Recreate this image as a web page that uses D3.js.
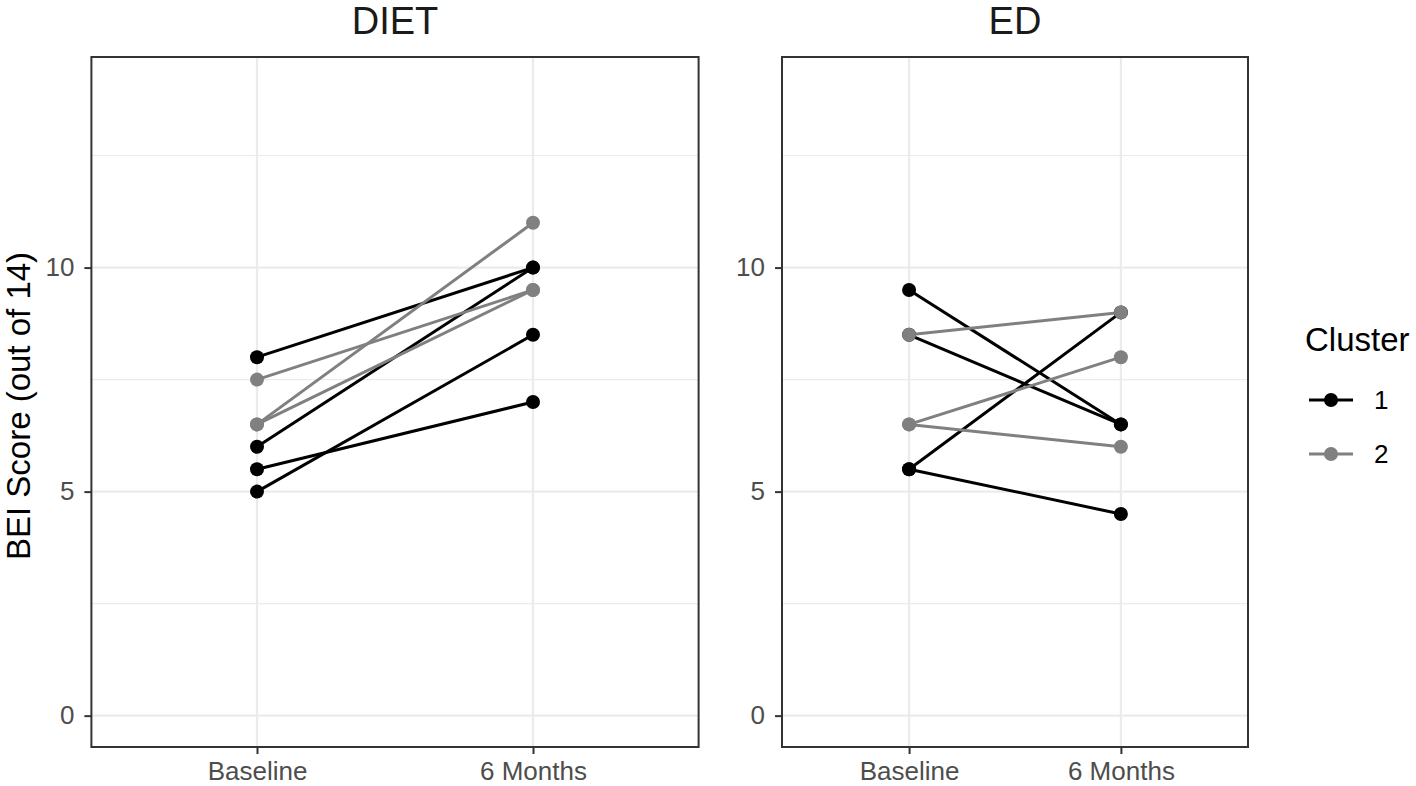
<!DOCTYPE html>
<html>
<head>
<meta charset="utf-8">
<script src="https://cdn.jsdelivr.net/npm/d3@7"></script>
<style>
  html, body { margin: 0; padding: 0; background: #fff; }
  svg { display: block; font-family: "Liberation Sans", Arial, Helvetica, sans-serif; }
</style>
</head>
<body>
<svg id="chart" width="1416" height="786"></svg>
<script>
// ---- Data ----
const timepoints = ["Baseline", "6 Months"];
const panelNames = ["DIET", "ED"];
const clusters = ["1", "2"];
const clusterColors = ["#000000", "#808080"];

const dietBaseline  = [8, 6, 5.5, 5, 7.5, 6.5, 6.5];
const dietSixMonths = [10, 10, 7, 8.5, 9.5, 11, 9.5];
const dietCluster   = ["1", "1", "1", "1", "2", "2", "2"];

const edBaseline  = [9.5, 8.5, 5.5, 5.5, 8.5, 6.5, 6.5];
const edSixMonths = [6.5, 6.5, 9, 4.5, 9, 8, 6];
const edCluster   = ["1", "1", "1", "1", "2", "2", "2"];

const yTicks = [0, 5, 10];
const yMinorTicks = [2.5, 7.5, 12.5];
const yTitle = "BEI Score (out of 14)";
const legendTitle = "Cluster";

// ---- Layout ----
const svg = d3.select("#chart");
const plotTop = 57, plotBottom = 747;
const panelsLayout = [
  { name: panelNames[0], x0: 91.4, x1: 698.6, base: dietBaseline, six: dietSixMonths, cl: dietCluster },
  { name: panelNames[1], x0: 782, x1: 1248, base: edBaseline, six: edSixMonths, cl: edCluster }
];

const y = d3.scaleLinear().domain([-0.7, 14.7]).range([plotBottom, plotTop]);
const color = d3.scaleOrdinal().domain(clusters).range(clusterColors);

panelsLayout.forEach(p => {
  const x = d3.scalePoint().domain(timepoints).range([p.x0, p.x1]).padding(0.6);
  const g = svg.append("g");

  g.append("rect").attr("x", p.x0).attr("y", plotTop).attr("width", p.x1 - p.x0).attr("height", plotBottom - plotTop)
    .attr("fill", "#fff");

  g.selectAll(".ymin").data(yMinorTicks).enter().append("line")
    .attr("x1", p.x0).attr("x2", p.x1).attr("y1", d => y(d)).attr("y2", d => y(d))
    .attr("stroke", "#ebebeb").attr("stroke-width", 1.1);
  g.selectAll(".ymaj").data(yTicks).enter().append("line")
    .attr("x1", p.x0).attr("x2", p.x1).attr("y1", d => y(d)).attr("y2", d => y(d))
    .attr("stroke", "#ebebeb").attr("stroke-width", 2.2);
  g.selectAll(".xmaj").data(timepoints).enter().append("line")
    .attr("x1", d => x(d)).attr("x2", d => x(d)).attr("y1", plotTop).attr("y2", plotBottom)
    .attr("stroke", "#ebebeb").attr("stroke-width", 2.2);

  const rows = p.base.map((b, i) => ({ b, s: p.six[i], c: p.cl[i] }));
  const order = rows.slice().sort((a, b) => d3.ascending(a.c, b.c));
  g.selectAll(".seg").data(order).enter().append("line")
    .attr("x1", x(timepoints[0])).attr("x2", x(timepoints[1]))
    .attr("y1", d => y(d.b)).attr("y2", d => y(d.s))
    .attr("stroke", d => color(d.c)).attr("stroke-width", 3);
  const pts = [];
  order.forEach(d => { pts.push({ t: timepoints[0], v: d.b, c: d.c }); pts.push({ t: timepoints[1], v: d.s, c: d.c }); });
  g.selectAll(".pt").data(pts).enter().append("circle")
    .attr("cx", d => x(d.t)).attr("cy", d => y(d.v)).attr("r", 7)
    .attr("fill", d => color(d.c));

  g.append("rect").attr("x", p.x0).attr("y", plotTop).attr("width", p.x1 - p.x0).attr("height", plotBottom - plotTop)
    .attr("fill", "none").attr("stroke", "#333333").attr("stroke-width", 2);

  const ya = g.append("g").attr("transform", `translate(${p.x0},0)`)
    .call(d3.axisLeft(y).tickValues(yTicks).tickSize(7).tickPadding(10).tickFormat(d3.format("d")));
  ya.select(".domain").remove();
  ya.selectAll(".tick line").attr("stroke", "#333333").attr("stroke-width", 2);
  ya.selectAll(".tick text").attr("fill", "#4d4d4d").attr("font-size", 26)
    .attr("font-family", "Liberation Sans, Arial, sans-serif");

  const xa = g.append("g").attr("transform", `translate(0,${plotBottom})`)
    .call(d3.axisBottom(x).tickSize(7).tickPadding(8));
  xa.select(".domain").remove();
  xa.selectAll(".tick line").attr("stroke", "#333333").attr("stroke-width", 2);
  xa.selectAll(".tick text").attr("fill", "#4d4d4d").attr("font-size", 26)
    .attr("font-family", "Liberation Sans, Arial, sans-serif");

  svg.append("text").attr("x", (p.x0 + p.x1) / 2).attr("y", 34)
    .attr("text-anchor", "middle").attr("font-size", 38).attr("fill", "#1a1a1a")
    .text(p.name);
});

svg.append("text").attr("transform", `translate(30,${(plotTop + plotBottom) / 2 + 4}) rotate(-90)`)
  .attr("text-anchor", "middle").attr("font-size", 33).attr("fill", "#000")
  .text(yTitle);

const lg = svg.append("g");
lg.append("text").attr("x", 1305).attr("y", 351).attr("font-size", 33).attr("fill", "#000").text(legendTitle);
const legY = d3.scalePoint().domain(clusters).range([400, 454]);
clusters.forEach(c => {
  lg.append("line").attr("x1", 1309).attr("x2", 1353).attr("y1", legY(c)).attr("y2", legY(c))
    .attr("stroke", color(c)).attr("stroke-width", 3);
  lg.append("circle").attr("cx", 1331).attr("cy", legY(c)).attr("r", 7).attr("fill", color(c));
  lg.append("text").attr("x", 1374).attr("y", legY(c) + 9).attr("font-size", 26).attr("fill", "#000").text(c);
});
</script>
</body>
</html>
